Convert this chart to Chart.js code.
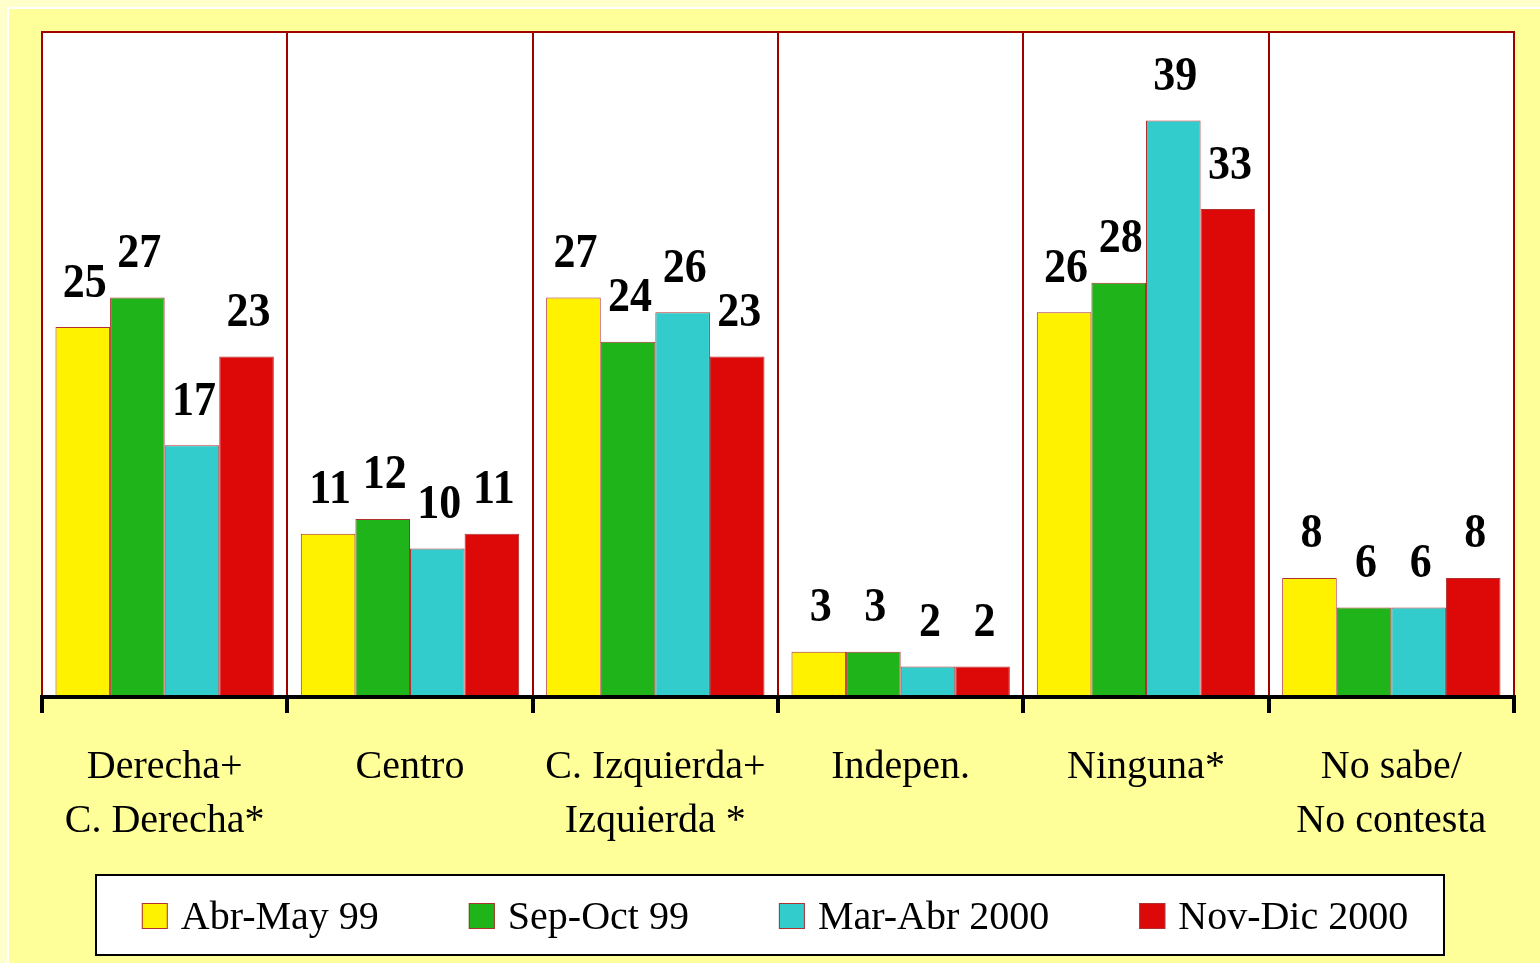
<!DOCTYPE html>
<html>
<head>
<meta charset="utf-8">
<script src="https://cdn.jsdelivr.net/npm/chart.js@4.4.0/dist/chart.umd.min.js"></script>
<style>
  html, body { margin: 0; padding: 0; }
  body { width: 1540px; height: 963px; background: #FFFFCC; position: relative; overflow: hidden; }
  #frame { position: absolute; left: 7px; top: 7px; right: 0; bottom: 0; background: #FFFF99;
           border-left: 2px solid #fff; border-top: 2px solid #fff; }
  #chart { position: absolute; left: 0; top: 0; }
</style>
</head>
<body>
<div id="frame"></div>
<canvas id="chart" width="1540" height="963"></canvas>
<script>
// categories and series (percent)
const categories = [
  ["Derecha+", "C. Derecha*"],
  ["Centro"],
  ["C. Izquierda+", "Izquierda *"],
  ["Indepen."],
  ["Ninguna*"],
  ["No sabe/", "No contesta"]
];
const seriesNames = ["Abr-May 99", "Sep-Oct 99", "Mar-Abr 2000", "Nov-Dic 2000"];
const abrMay99 = [25, 11, 27, 3, 26, 8];
const sepOct99 = [27, 12, 24, 3, 28, 6];
const marAbr2000 = [17, 10, 26, 2, 39, 6];
const novDic2000 = [23, 11, 23, 2, 33, 8];
const barColors = ["#FFF200", "#1FB51A", "#33CCCC", "#DD0808"];

const serif = "'Liberation Serif', 'Times New Roman', serif";

// white plot area + dark red frame
const plotFrame = {
  id: "plotFrame",
  beforeDraw(chart) {
    const a = chart.chartArea, ctx = chart.ctx;
    ctx.save();
    ctx.fillStyle = "#fff";
    ctx.fillRect(a.left, a.top, a.right - a.left, a.bottom - a.top);
    ctx.restore();
  },
  beforeDatasetsDraw(chart) {
    const a = chart.chartArea, ctx = chart.ctx;
    ctx.save();
    ctx.strokeStyle = "#A00000";
    ctx.lineWidth = 2;
    ctx.strokeRect(a.left, a.top, a.right - a.left, a.bottom - a.top);
    ctx.restore();
  },
  afterDraw(chart) {
    // black base line over the bar feet
    const a = chart.chartArea, ctx = chart.ctx;
    ctx.save();
    ctx.strokeStyle = "#000";
    ctx.lineWidth = 4;
    ctx.beginPath();
    ctx.moveTo(a.left - 2, a.bottom + 1);
    ctx.lineTo(a.right + 2, a.bottom + 1);
    ctx.stroke();
    ctx.restore();
  }
};

// value labels above each bar
const valueLabels = {
  id: "valueLabels",
  afterDatasetsDraw(chart) {
    const ctx = chart.ctx;
    ctx.save();
    ctx.font = "bold 44px " + serif;
    ctx.fillStyle = "#000";
    ctx.textAlign = "center";
    ctx.textBaseline = "middle";
    chart.data.datasets.forEach((ds, i) => {
      chart.getDatasetMeta(i).data.forEach((bar, j) => {
        ctx.save();
        ctx.translate(bar.x + 2, bar.y - 43);
        ctx.scale(1, 1.1);
        ctx.fillText(String(Math.round(ds.data[j])), 0, 0);
        ctx.restore();
      });
    });
    ctx.restore();
  }
};

// boxed legend under the axis labels
const boxLegend = {
  id: "boxLegend",
  afterDraw(chart) {
    const ctx = chart.ctx;
    const boxTop = 875, boxH = 80, sq = 26, gap = 13, spacing = 90;
    ctx.save();
    ctx.fillStyle = "#fff";
    ctx.fillRect(96, boxTop, 1348, boxH);
    ctx.strokeStyle = "#000";
    ctx.lineWidth = 2;
    ctx.strokeRect(96, boxTop, 1348, boxH);
    ctx.font = "40px " + serif;
    const items = chart.data.datasets.map(ds => ({ text: ds.label, color: ds.backgroundColor, w: sq + gap + ctx.measureText(ds.label).width }));
    const total = items.reduce((s, it) => s + it.w, 0) + spacing * (items.length - 1);
    let x = 775 - total / 2;
    const cy = boxTop + boxH / 2 + 3;
    items.forEach(it => {
      ctx.fillStyle = it.color;
      ctx.fillRect(x, cy - sq / 2 - 2, sq, sq);
      ctx.strokeStyle = "#B03030";
      ctx.lineWidth = 1;
      ctx.strokeRect(x + 0.5, cy - sq / 2 - 1.5, sq - 1, sq - 1);
      ctx.fillStyle = "#000";
      ctx.textBaseline = "middle";
      ctx.textAlign = "left";
      ctx.fillText(it.text, x + sq + gap, cy);
      x += it.w + spacing;
    });
    ctx.restore();
  }
};

const seriesData = [abrMay99, sepOct99, marAbr2000, novDic2000];

new Chart(document.getElementById("chart"), {
  type: "bar",
  data: {
    labels: categories,
    datasets: seriesNames.map((name, i) => ({
      label: name,
      data: seriesData[i],
      backgroundColor: barColors[i],
      borderColor: "#B03030",
      borderWidth: 1,
      categoryPercentage: 0.89,
      barPercentage: 1
    }))
  },
  options: {
    responsive: false,
    animation: false,
    devicePixelRatio: 1,
    layout: { padding: { left: 42, right: 26, top: 32, bottom: 88 } },
    plugins: { legend: { display: false }, tooltip: { enabled: false } },
    scales: {
      x: {
        z: 1,
        offset: true,
        grid: { offset: true, color: "#A00000", lineWidth: 2, drawTicks: true, tickLength: 17, tickColor: "#000", tickWidth: 4 },
        border: { display: false },
        ticks: { color: "#000", font: { family: serif, size: 40, lineHeight: 1.35 }, padding: 27, maxRotation: 0, autoSkip: false }
      },
      y: {
        display: false,
        min: 0,
        max: 45
      }
    }
  },
  plugins: [plotFrame, valueLabels, boxLegend]
});
</script>
</body>
</html>
